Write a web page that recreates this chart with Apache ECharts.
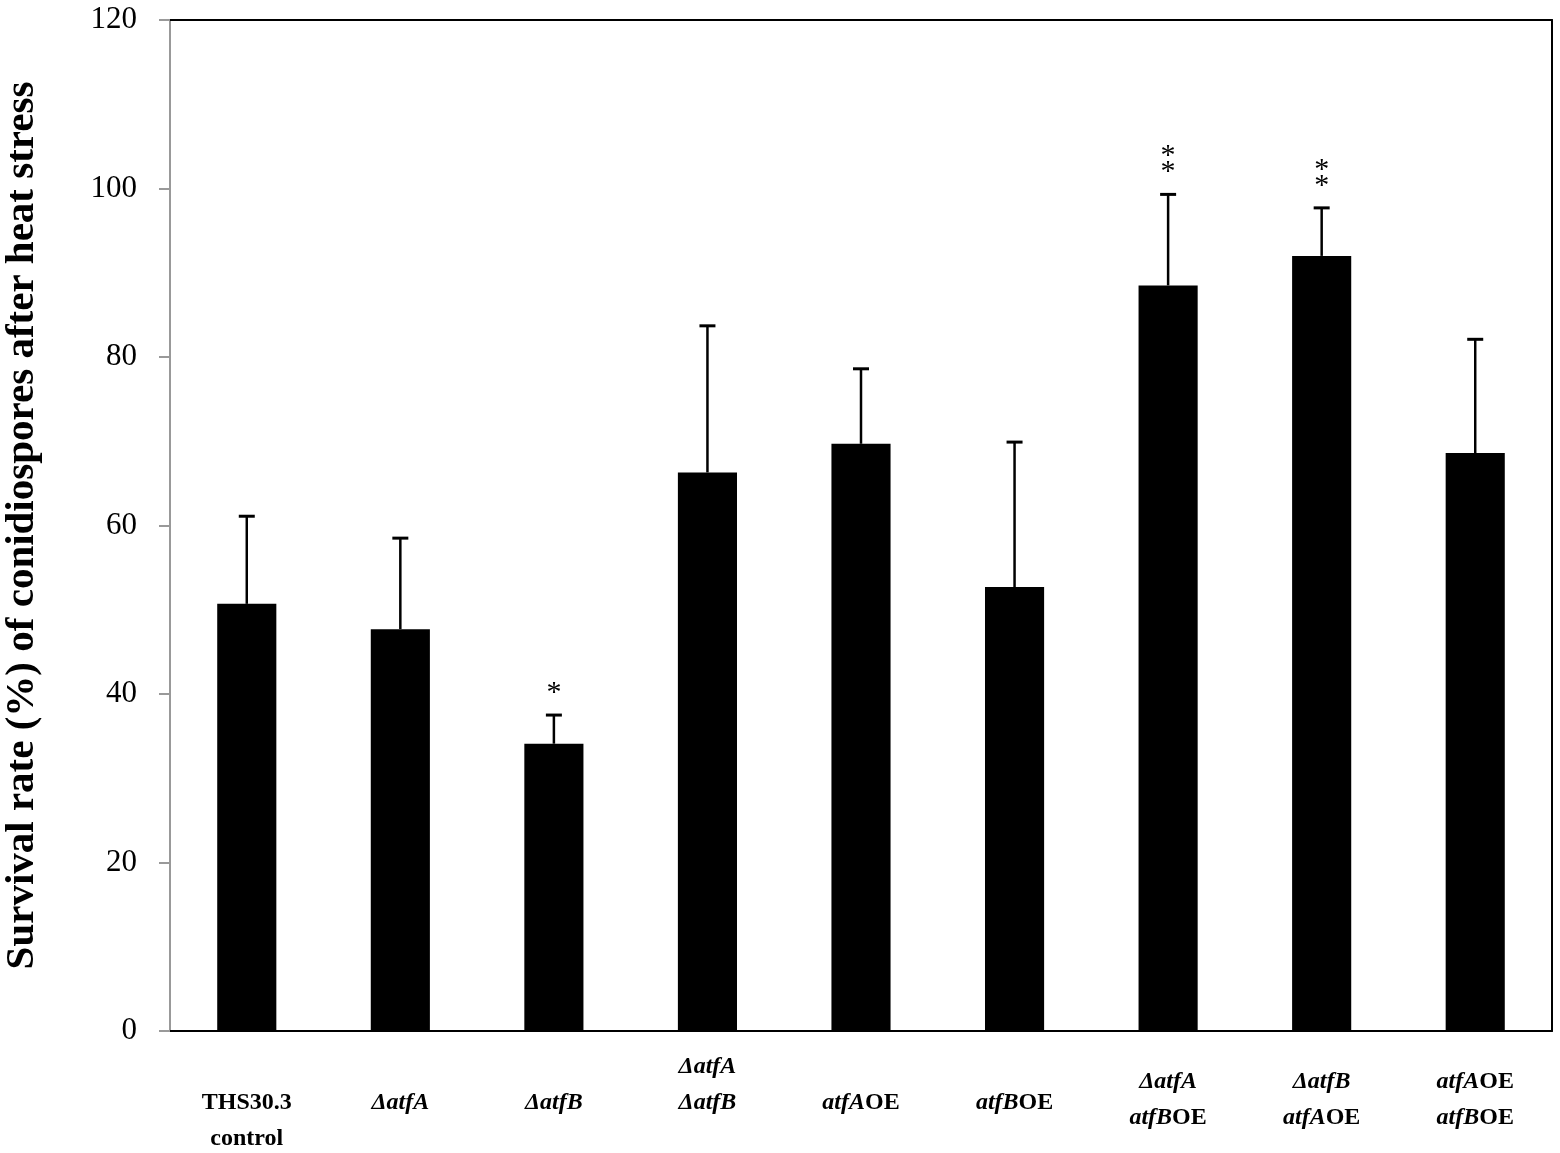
<!DOCTYPE html>
<html>
<head>
<meta charset="utf-8">
<script src="https://cdn.jsdelivr.net/npm/echarts@6/dist/echarts.min.js"></script>
<style>html,body{margin:0;padding:0;background:#fff;}#c{width:1560px;height:1153px;}</style>
</head>
<body>
<div id="c"></div>
<script>
// ---- data ----
var categories = ['THS30.3\ncontrol', 'ΔatfA', 'ΔatfB', 'ΔatfA\nΔatfB', 'atfAOE', 'atfBOE', 'ΔatfA\natfBOE', 'ΔatfB\natfAOE', 'atfAOE\natfBOE'];
var means = [50.7, 47.7, 34.1, 66.3, 69.7, 52.7, 88.5, 92.0, 68.6];
var errors = [10.4, 10.8, 3.4, 17.4, 8.9, 17.2, 10.8, 5.7, 13.5];
var significance = ['', '', '*', '', '', '', '**', '**', ''];
var yTicks = [0, 20, 40, 60, 80, 100, 120];

// ---- label vertical offsets (style) ----
var labelPadTop = [36, 36, 36, 0, 36, 36, 15, 15, 15];

var serif = '"Liberation Serif", "Times New Roman", serif';

function fmtLabel(v) {
  return v.split('\n').map(function (line) {
    return line.replace(/(Δ?atf[AB])/g, '\u0001$1\u0001').split('\u0001')
      .filter(function (s) { return s.length > 0; })
      .map(function (s) { return /^Δ?atf[AB]$/.test(s) ? '{i|' + s + '}' : '{b|' + s + '}'; })
      .join('');
  }).join('\n');
}

var catData = categories.map(function (c, i) {
  return { value: c, textStyle: { padding: [labelPadTop[i], 0, 0, 0] } };
});

var errData = means.map(function (m, i) { return [i, m, errors[i]]; });

var chart = echarts.init(document.getElementById('c'), null, { renderer: 'canvas' });
chart.setOption({
  animation: false,
  backgroundColor: '#fff',
  grid: { left: 170, right: 8, top: 20, bottom: 122, containLabel: false, outerBoundsMode: 'none' },
  xAxis: [{
    type: 'category',
    data: catData,
    axisLine: { show: true, onZero: false, lineStyle: { color: '#000', width: 2 } },
    axisTick: { show: false },
    axisLabel: {
      interval: 0, margin: 18, color: '#000',
      formatter: fmtLabel,
      rich: {
        i: { fontFamily: serif, fontWeight: 'bold', fontStyle: 'italic', fontSize: 24, lineHeight: 36, color: '#000' },
        b: { fontFamily: serif, fontWeight: 'bold', fontSize: 24, lineHeight: 36, color: '#000' }
      }
    }
  }, {
    type: 'category', position: 'top', data: categories,
    axisLine: { show: true, onZero: false, lineStyle: { color: '#000', width: 2 } },
    axisTick: { show: false }, axisLabel: { show: false }
  }],
  yAxis: [{
    type: 'value', min: 0, max: 120, interval: 20,
    name: 'Survival rate (%) of conidiospores after heat stress',
    nameLocation: 'middle', nameGap: 127, nameRotate: 90,
    nameTextStyle: { fontFamily: serif, fontWeight: 'bold', fontSize: 41, color: '#000' },
    axisLine: { show: true, lineStyle: { color: '#999', width: 2 } },
    axisTick: { show: true, inside: false, length: 11, lineStyle: { color: '#999', width: 2 } },
    splitLine: { show: false },
    axisLabel: {
      margin: 33, color: '#000', fontFamily: serif, fontSize: 31,
      formatter: function (v) { return yTicks.indexOf(v) >= 0 ? String(v) : ''; }
    }
  }, {
    type: 'value', min: 0, max: 120, interval: 20, position: 'right',
    axisLine: { show: true, onZero: false, lineStyle: { color: '#000', width: 2 } },
    axisTick: { show: false }, axisLabel: { show: false }, splitLine: { show: false }
  }],
  series: [{
    type: 'bar',
    data: means,
    barWidth: '38.5%',
    itemStyle: { color: '#000' },
    z: 2
  }, {
    type: 'custom',
    data: errData,
    z: 3,
    renderItem: function (params, api) {
      var i = api.value(0), m = api.value(1), e = api.value(2);
      var base = api.coord([i, m]);
      var top = api.coord([i, m + e]);
      var cap = 8;
      var sig = significance[i];
      var children = [
        { type: 'line', shape: { x1: base[0], y1: base[1], x2: top[0], y2: top[1] }, style: { stroke: '#000', lineWidth: 2.5 } },
        { type: 'line', shape: { x1: top[0] - cap, y1: top[1], x2: top[0] + cap, y2: top[1] }, style: { stroke: '#000', lineWidth: 3 } }
      ];
      if (sig) {
        children.push({
          type: 'text',
          style: {
            text: sig.split('').join('\n'),
            x: top[0], y: top[1] - 14,
            align: 'center', verticalAlign: 'bottom',
            fontFamily: serif, fontSize: 30, lineHeight: 16, fill: '#000'
          }
        });
      }
      return { type: 'group', children: children };
    }
  }]
});
</script>
</body>
</html>
